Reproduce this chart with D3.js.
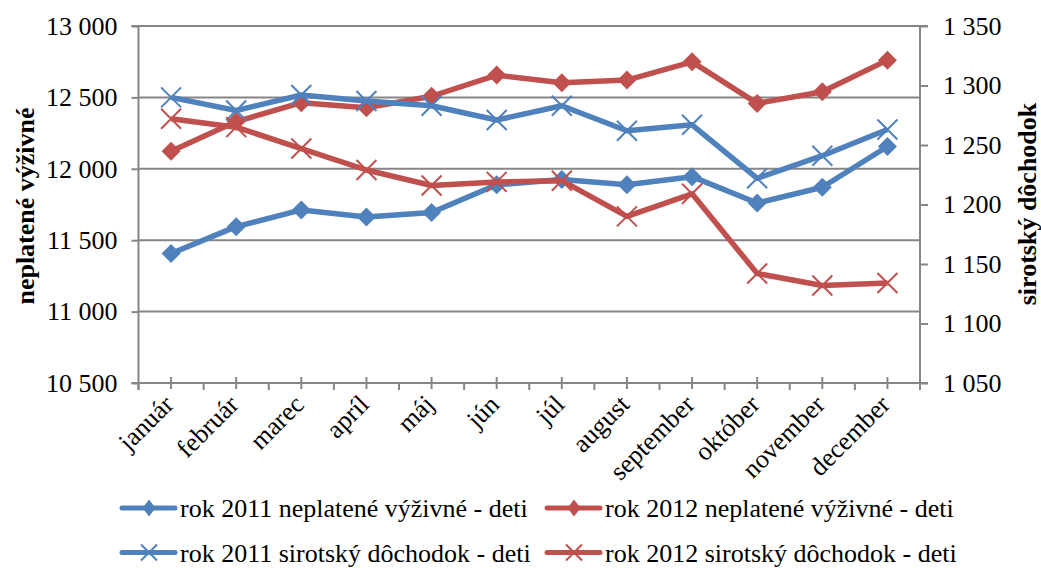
<!DOCTYPE html>
<html><head><meta charset="utf-8">
<script src="https://cdn.jsdelivr.net/npm/d3@7"></script>
<style>body{margin:0;background:#fff} svg{display:block} svg text{font-family:"Liberation Serif","Times New Roman","DejaVu Serif",serif !important}</style>
</head><body><svg id="c" width="1041" height="568"></svg>
<script>
const months = ["január","február","marec","apríl","máj","jún","júl","august","september","október","november","december"];
const alimony2011 = [11407,11595,11712,11663,11694,11888,11925,11888,11945,11760,11871,12156];
const alimony2012 = [12123,12331,12463,12428,12508,12656,12602,12621,12749,12458,12539,12761];
const pension2011 = [1290,1279,1292,1287,1283,1271,1283,1262,1267,1222,1241,1263];
const pension2012 = [1272,1265,1247,1229,1216,1219,1220,1190,1209,1142,1132,1134];
const leftTicks = [10500,11000,11500,12000,12500,13000];
const rightTicks = [1050,1100,1150,1200,1250,1300,1350];
const seriesNames = ["rok 2011 neplatené výživné - deti","rok 2012 neplatené výživné - deti","rok 2011 sirotský dôchodok - deti","rok 2012 sirotský dôchodok - deti"];
const colors = ["#4F81BD","#C0504D"];

const L = 138.5, R = 920, T = 26, B = 383;
const svg = d3.select("#c");
const x = d3.scaleBand().domain(months).range([L, R]);
const yL = d3.scaleLinear().domain([10500, 13000]).range([B, T]);
const yR = d3.scaleLinear().domain([1050, 1350]).range([B, T]);
const fmt = v => d3.format(",")(v).replace(/,/g, " ");
const gridCol = "#868686";

// gridlines
svg.append("g").selectAll("line").data(leftTicks.filter(t => t !== 10500)).join("line")
  .attr("x1", L).attr("x2", R).attr("y1", d => yL(d)).attr("y2", d => yL(d))
  .attr("stroke", gridCol).attr("stroke-width", 2);

// left axis
const gl = svg.append("g").attr("transform", `translate(${L},0)`)
  .call(d3.axisLeft(yL).tickValues(leftTicks).tickFormat(fmt).tickSize(7).tickPadding(14));
// right axis
const gr = svg.append("g").attr("transform", `translate(${R},0)`)
  .call(d3.axisRight(yR).tickValues(rightTicks).tickFormat(fmt).tickSize(8).tickPadding(15));
// bottom axis: boundary ticks
const bounds = months.map(m => x(m)).concat([R]);
const gb = svg.append("g");
gb.append("line").attr("x1", L - 7).attr("x2", R + 8).attr("y1", B).attr("y2", B).attr("stroke", gridCol).attr("stroke-width", 2);
gb.selectAll("line.bt").data(bounds).join("line").attr("class", "bt")
  .attr("x1", d => d).attr("x2", d => d).attr("y1", B).attr("y2", B + 7)
  .attr("stroke", gridCol).attr("stroke-width", 2);
gb.selectAll("line.ct").data(months).join("line").attr("class", "ct")
  .attr("x1", d => x(d) + x.bandwidth() / 2).attr("x2", d => x(d) + x.bandwidth() / 2)
  .attr("y1", B - 6).attr("y2", B + 6).attr("stroke", gridCol).attr("stroke-width", 2);
gb.selectAll("text").data(months).join("text")
  .attr("transform", d => `translate(${x(d) + x.bandwidth() / 2 + 4},${B + 23}) rotate(-45)`)
  .attr("text-anchor", "end").attr("font-size", 26).attr("fill", "#000").text(d => d);

[gl, gr].forEach(g => {
  g.attr("font-family", null);
  g.select(".domain").attr("stroke", gridCol).attr("stroke-width", 2);
  g.selectAll(".tick line").attr("stroke", gridCol).attr("stroke-width", 2);
  g.selectAll(".tick text").attr("font-size", 26).attr("fill", "#000");
});
gl.select(".domain").attr("d", `M-7,${T}H0V${B + 7}`);
gr.select(".domain").attr("d", `M8,${T}H0V${B + 7}`);

// axis titles
svg.append("text").attr("transform", `translate(34,206) rotate(-90)`).attr("text-anchor", "middle")
  .attr("font-size", 26).attr("font-weight", "bold").text("neplatené výživné");
svg.append("text").attr("transform", `translate(1036,204) rotate(-90)`).attr("text-anchor", "middle")
  .attr("font-size", 26).attr("font-weight", "bold").text("sirotský dôchodok");

const diamond = (w, h) => `M0,${-h}L${w},0L0,${h}L${-w},0Z`;
const cross = s => `M${-s},${-s}L${s},${s}M${-s},${s}L${s},${-s}`;

const series = [
  {vals: alimony2011, y: yL, col: colors[0], m: "d"},
  {vals: alimony2012, y: yL, col: colors[1], m: "d"},
  {vals: pension2011, y: yR, col: colors[0], m: "x"},
  {vals: pension2012, y: yR, col: colors[1], m: "x"}
];
const cx = m => x(m) + x.bandwidth() / 2;
series.forEach(s => {
  const g = svg.append("g");
  g.append("path").datum(s.vals)
    .attr("d", d3.line().x((d, j) => cx(months[j])).y(d => s.y(d)))
    .attr("fill", "none").attr("stroke", s.col).attr("stroke-width", 5.5).attr("stroke-linejoin", "round");
  g.selectAll("path.mk").data(s.vals).join("path").attr("class", "mk")
    .attr("transform", (d, j) => `translate(${cx(months[j])},${s.y(d)})`)
    .attr("d", s.m === "d" ? diamond(9.5, 9.5) : cross(10))
    .attr("fill", s.m === "d" ? s.col : "none")
    .attr("stroke", s.col).attr("stroke-width", s.m === "d" ? 0 : 2);
});

// legend
const legPos = [[122, 508], [547, 508], [122, 552.5], [547, 552.5]];
series.forEach((s, i) => {
  const [lx, ly] = legPos[i];
  const g = svg.append("g").attr("transform", `translate(${lx},${ly})`);
  g.append("line").attr("x1", 0).attr("x2", 53).attr("stroke", s.col).attr("stroke-width", 5).attr("stroke-linecap", "round");
  g.append("path").attr("transform", "translate(27,0)").attr("d", s.m === "d" ? diamond(6.5, 8.5) : cross(8))
    .attr("fill", s.m === "d" ? s.col : "none").attr("stroke", s.col).attr("stroke-width", s.m === "d" ? 0 : 2);
  g.append("text").attr("x", 58).attr("y", 9).attr("font-size", 26).attr("fill", "#000").text(seriesNames[i]);
});
</script></body></html>
